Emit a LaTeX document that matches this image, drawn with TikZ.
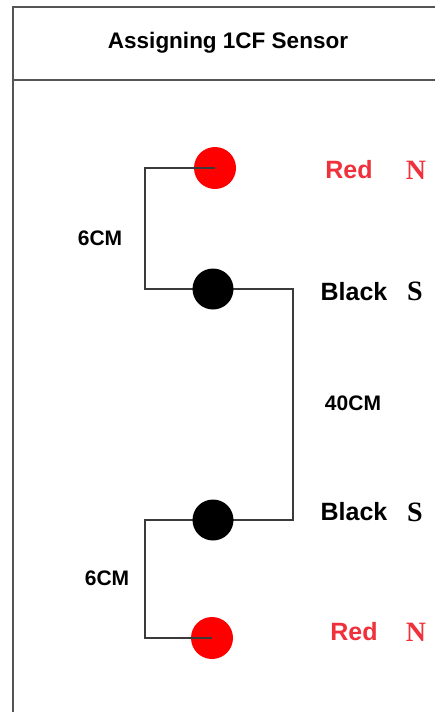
\documentclass[tikz,border=0pt]{standalone}
\usepackage{fontspec}
\setmainfont{Liberation Sans}
\newfontfamily\serifN{Liberation Serif}
\definecolor{framegray}{HTML}{555555}
\definecolor{wiregray}{HTML}{3A3A3A}
\definecolor{pinred}{HTML}{FF0000}
\definecolor{labred}{HTML}{F0303A}
\tikzset{
  frameline/.style={draw=framegray,line width=2pt},
  wire/.style={draw=wiregray,line width=1.8pt},
  reddot/.style={circle,fill=pinred,minimum size=42pt,inner sep=0pt},
  blackdot/.style={circle,fill=black,minimum size=41pt,inner sep=0pt},
  lab/.style={font=\fontsize{25}{30}\selectfont\bfseries,inner sep=0pt},
  pole/.style={font=\fontsize{28}{34}\selectfont\serifN\bfseries,inner sep=0pt},
  dist/.style={font=\fontsize{21}{25}\selectfont\bfseries,inner sep=0pt}
}
\begin{document}
\begin{tikzpicture}[x=1pt,y=-1pt]
\useasboundingbox (0,0) rectangle (435,712);
% frame
\coordinate (ftl) at (13,7);
\coordinate (ftr) at (440,7);
\coordinate (fbl) at (13,716);
\coordinate (hl) at (13,80);
\coordinate (hr) at (440,80);
\draw[frameline] (fbl) -- (ftl) -- (ftr);
\draw[frameline] (hl) -- (hr);
\node[font=\fontsize{22.5}{27}\selectfont\bfseries,inner sep=0pt] (title) at (228,43) {Assigning 1CF Sensor};
% wire corners
\coordinate (c1) at (145,168);
\coordinate (c2) at (145,289);
\coordinate (c3) at (293,289);
\coordinate (c4) at (293,520);
\coordinate (c5) at (145,520);
\coordinate (c6) at (145,638);
% dots
\node[reddot] (r1) at (215,168) {};
\node[reddot] (r2) at (212,638) {};
\draw[wire] (r1.center) -- (c1) -- (c2) -- (c3) -- (c4) -- (c5) -- (c6) -- (r2.center);
\node[blackdot] (b1) at (213,289) {};
\node[blackdot] (b2) at (213,520) {};
% labels
\node[lab,text=labred] (t1) at (349,170) {Red};
\node[pole,text=labred] (p1) at (416,170) {N};
\node[lab] (t2) at (354,292) {Black};
\node[pole] (p2) at (415,291) {S};
\node[lab] (t3) at (354,512) {Black};
\node[pole] (p3) at (415,512) {S};
\node[lab,text=labred] (t4) at (354,632) {Red};
\node[pole,text=labred] (p4) at (416,632) {N};
\node[dist] (d1) at (100,238) {6CM};
\node[dist] (d2) at (107,578) {6CM};
\node[dist] (d3) at (353,403) {40CM};
\end{tikzpicture}
\end{document}
